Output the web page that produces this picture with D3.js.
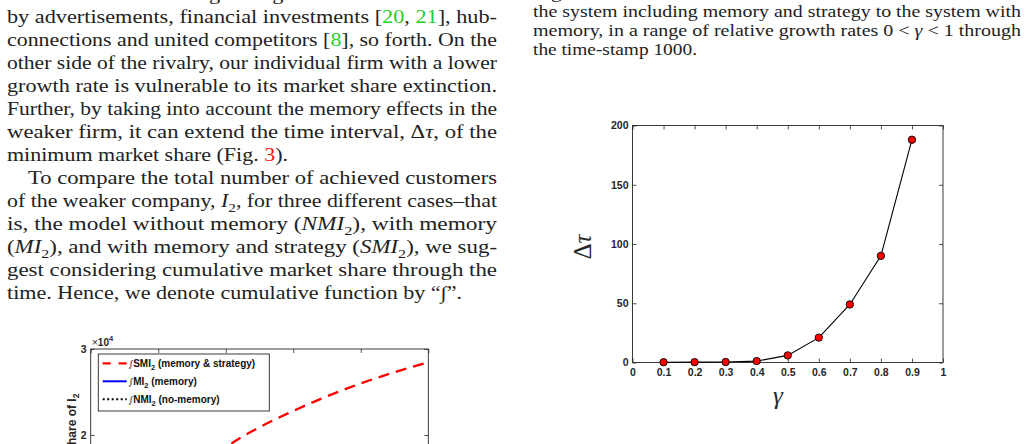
<!DOCTYPE html>
<html>
<head>
<meta charset="utf-8">
<script src="https://cdn.jsdelivr.net/npm/d3@7"></script>
<style>
  html, body { margin: 0; padding: 0; background: #fff; overflow: hidden; }
  svg text { white-space: pre; }
</style>
</head>
<body>
<svg id="page" width="1029" height="444"></svg>
<script>
// ---- page text (left column, right column) ----
const leftLines = [
  "not and maintain their growing market share initiatives",
  "by advertisements, financial investments [<g>20</g>, <g>21</g>], hub-",
  "connections and united competitors [<g>8</g>], so forth. On the",
  "other side of the rivalry, our individual firm with a lower",
  "growth rate is vulnerable to its market share extinction.",
  "Further, by taking into account the memory effects in the",
  "weaker firm, it can extend the time interval, Δ<i>τ</i>, of the",
  "minimum market share (Fig. <r>3</r>).",
  "To compare the total number of achieved customers",
  "of the weaker company, <i>I</i><s>2</s>, for three different cases–that",
  "is, the model without memory (<i>NMI</i><s>2</s>), with memory",
  "(<i>MI</i><s>2</s>), and with memory and strategy (<i>SMI</i><s>2</s>), we sug-",
  "gest considering cumulative market share through the",
  "time. Hence, we denote cumulative function by “∫”."
];
const rightLines = [
  "Fig. 4 shows the extension of the time interval, Δ<i>τ</i>, from",
  "the system including memory and strategy to the system with",
  "memory, in a range of relative growth rates 0 &lt; <i>γ</i> &lt; 1 through",
  "the time-stamp 1000."
];

// ---- left figure: cumulative market share of I2 (x10^4) ----
const timeSteps = [0, 100, 200, 300, 400, 500, 600, 700, 800, 900, 1000];
const cumSMI = [0, 0.55, 1.0, 1.45, 1.85, 2.09, 2.28, 2.45, 2.60, 2.73, 2.845];
const cumMI  = [0, 0.30, 0.55, 0.78, 0.98, 1.15, 1.30, 1.43, 1.54, 1.63, 1.70];
const cumNMI = [0, 0.25, 0.45, 0.62, 0.76, 0.88, 0.98, 1.06, 1.13, 1.19, 1.24];
const legendLabels = ["SMI", "MI", "NMI"];
const legendNotes = [" (memory & strategy)", " (memory)", " (no-memory)"];

// ---- right figure: delta tau vs gamma ----
const gammaVals = [0.1, 0.2, 0.3, 0.4, 0.5, 0.6, 0.7, 0.8, 0.9];
const deltaTau  = [0.2, 0.3, 0.4, 1.2, 6, 21, 49, 90, 188];
const gammaTicks = [0, 0.1, 0.2, 0.3, 0.4, 0.5, 0.6, 0.7, 0.8, 0.9, 1];
const tauTicks = [0, 50, 100, 150, 200];

const svg = d3.select("#page");
const ink = "#222";
const axisInk = "#262626";
const sans = "'Liberation Sans', Arial, Helvetica, sans-serif";
const serif = "'Liberation Serif', 'DejaVu Serif', serif";

// draw one line of body text with a tiny markup: <g> green, <r> red, <i> italic, <s> subscript
function textLine(x, y, str, size, width) {
  const t = svg.append("text")
    .attr("x", x).attr("y", y)
    .style("font-family", serif)
    .style("font-size", size + "px")
    .attr("fill", ink);
  if (width) t.attr("textLength", width).attr("lengthAdjust", "spacingAndGlyphs");
  const st = { g: false, r: false, i: false, s: false };
  let shift = 0;
  str.replace(/&lt;/g, "<lt>").split(/(<\/?[girs]>)/).filter(p => p !== "").forEach(p => {
    const m = p.match(/^<(\/?)([girs])>$/);
    if (m) { st[m[2]] = !m[1]; return; }
    const ts = t.append("tspan").text(p.replace(/<lt>/g, "<"));
    const want = st.s ? size * 0.25 : 0;
    if (want !== shift) { ts.attr("dy", want - shift); shift = want; }
    if (st.s) ts.style("font-size", (size * 0.7) + "px");
    if (st.i) ts.style("font-style", "italic");
    if (st.g) ts.attr("fill", "#25d025");
    if (st.r) ts.attr("fill", "#f01414");
  });
}

// left column
const colW = 490;
leftLines.forEach((s, i) => {
  const y = i * 23;
  if (i === 7) textLine(7, y, s, 18, 281);
  else if (i === 8) textLine(28, y, s, 18, 469);
  else if (i === 13) textLine(7, y, s, 18, 455);
  else textLine(7, y, s, 18, colW);
});
// right column
rightLines.forEach((s, i) => {
  const y = -1.7 + i * 19;
  if (i === 3) textLine(533, y, s, 16.5, 164);
  else textLine(533, y, s, 16.5, 488);
});

// styling helper for axes
function styleAxis(g, labels) {
  g.attr("font-size", null).attr("font-family", null);
  g.select(".domain").remove();
  g.selectAll(".tick line").attr("stroke", axisInk).attr("stroke-width", 0.8);
  g.selectAll(".tick text")
    .attr("fill", axisInk)
    .style("font-family", sans)
    .style("font-weight", "bold")
    .style("font-size", "10.5px");
  if (!labels) g.selectAll(".tick text").remove();
}

// ================= left chart =================
const xL = d3.scaleLinear().domain([0, 1000]).range([90.7, 428.3]);
const yL = d3.scaleLinear().domain([0, 3]).range([607, 349]);

svg.append("clipPath").attr("id", "clipL")
  .append("rect").attr("x", 90.7).attr("y", 349).attr("width", 337.6).attr("height", 258);

const left = svg.append("g");
const lineL = d3.line().x((d, i) => xL(timeSteps[i])).y(d => yL(d)).curve(d3.curveMonotoneX);

const plotL = left.append("g").attr("clip-path", "url(#clipL)");
plotL.append("path").attr("d", lineL(cumNMI)).attr("fill", "none")
  .attr("stroke", "#000").attr("stroke-width", 2).attr("stroke-dasharray", "2,2.5");
plotL.append("path").attr("d", lineL(cumMI)).attr("fill", "none")
  .attr("stroke", "#0000ff").attr("stroke-width", 2);
plotL.append("path").attr("d", lineL(cumSMI)).attr("fill", "none")
  .attr("stroke", "#ff0000").attr("stroke-width", 2.3).attr("stroke-dasharray", "11,7");

left.append("g").attr("transform", "translate(90.7,0)")
  .call(d3.axisLeft(yL).tickValues([0, 1, 2, 3]).tickFormat(d3.format("d")).tickSizeInner(-4).tickSizeOuter(0).tickPadding(4))
  .call(g => styleAxis(g, true));
left.append("g").attr("transform", "translate(428.3,0)")
  .call(d3.axisRight(yL).tickValues([0, 1, 2, 3]).tickSizeInner(-4).tickSizeOuter(0))
  .call(g => styleAxis(g, false));
left.append("g").attr("transform", "translate(0,349)")
  .call(d3.axisTop(xL).ticks(5).tickSizeInner(-4).tickSizeOuter(0))
  .call(g => styleAxis(g, false));
left.append("g").attr("transform", "translate(0,607)")
  .call(d3.axisBottom(xL).ticks(5).tickSizeInner(-4).tickSizeOuter(0))
  .call(g => styleAxis(g, true));
left.append("rect").attr("x", 90.7).attr("y", 349).attr("width", 337.6).attr("height", 258)
  .attr("fill", "none").attr("stroke", axisInk).attr("stroke-width", 0.9);

// x10^4 multiplier
const mult = left.append("text").attr("x", 92).attr("y", 345.5)
  .style("font-family", sans).style("font-size", "10px").attr("fill", axisInk);
mult.append("tspan").text("×");
mult.append("tspan").style("font-weight", "bold").text("10");
mult.append("tspan").style("font-weight", "bold").style("font-size", "7.5px").attr("dy", -5).text("4");

// y label (rotated)
const yLab = left.append("text").attr("transform", "translate(76,478) rotate(-90)")
  .attr("text-anchor", "middle")
  .style("font-family", sans).style("font-weight", "bold")
  .style("font-size", "12px").attr("fill", axisInk);
yLab.append("tspan").text("Cumulative market share of I");
yLab.append("tspan").style("font-size", "8.5px").attr("dy", 3).text("2");

// legend
const lg = left.append("g");
lg.append("rect").attr("x", 98.3).attr("y", 354).attr("width", 171).attr("height", 57)
  .attr("fill", "#fff").attr("stroke", axisInk).attr("stroke-width", 0.9);
const legendStyles = [
  { c: "#ff0000", w: 2.3, dash: "8,8" },
  { c: "#0000ff", w: 2, dash: null },
  { c: "#000", w: 2, dash: "2,2.5" }
];
const legendY = d3.scalePoint().domain(legendLabels).range([363.3, 399.3]);
legendLabels.forEach((lab, i) => {
  const y = legendY(lab);
  const s = legendStyles[i];
  const ln = lg.append("line").attr("x1", 102.7).attr("x2", 126.7).attr("y1", y).attr("y2", y)
    .attr("stroke", s.c).attr("stroke-width", s.w);
  if (s.dash) ln.attr("stroke-dasharray", s.dash);
  const t = lg.append("text").attr("x", 128.5).attr("y", y + 3.5)
    .style("font-family", sans).style("font-size", "10px").attr("fill", "#111");
  t.append("tspan").style("font-family", "'DejaVu Serif', serif").style("font-size", "9px").text("∫");
  t.append("tspan").style("font-weight", "bold").text(lab);
  t.append("tspan").style("font-weight", "bold").style("font-size", "7.5px").attr("dy", 3).text("2");
  t.append("tspan").style("font-weight", "bold").attr("dy", -3).text(legendNotes[i]);
});

// ================= right chart =================
const xR = d3.scaleLinear().domain([0, 1]).range([632.5, 943]);
const yR = d3.scaleLinear().domain([0, 200]).range([362.5, 125.5]);
const right = svg.append("g");

right.append("g").attr("transform", "translate(0,362.5)")
  .call(d3.axisBottom(xR).tickValues(gammaTicks).tickFormat(d3.format("~g")).tickSizeInner(-4).tickSizeOuter(0).tickPadding(6))
  .call(g => styleAxis(g, true));
right.append("g").attr("transform", "translate(0,125.5)")
  .call(d3.axisTop(xR).tickValues(gammaTicks).tickSizeInner(-4).tickSizeOuter(0))
  .call(g => styleAxis(g, false));
right.append("g").attr("transform", "translate(632.5,0)")
  .call(d3.axisLeft(yR).tickValues(tauTicks).tickSizeInner(-4).tickSizeOuter(0).tickPadding(4))
  .call(g => styleAxis(g, true));
right.append("g").attr("transform", "translate(943,0)")
  .call(d3.axisRight(yR).tickValues(tauTicks).tickSizeInner(-4).tickSizeOuter(0))
  .call(g => styleAxis(g, false));
right.append("rect").attr("x", 632.5).attr("y", 125.5).attr("width", 310.5).attr("height", 237)
  .attr("fill", "none").attr("stroke", axisInk).attr("stroke-width", 0.9);

const lineR = d3.line().x((d, i) => xR(gammaVals[i])).y(d => yR(d));
right.append("path").attr("d", lineR(deltaTau)).attr("fill", "none")
  .attr("stroke", "#000").attr("stroke-width", 1.1);
right.selectAll("circle.pt").data(deltaTau).enter().append("circle")
  .attr("class", "pt")
  .attr("cx", (d, i) => xR(gammaVals[i]))
  .attr("cy", d => yR(d))
  .attr("r", 3.7)
  .attr("fill", "#ff0000").attr("stroke", "#000").attr("stroke-width", 0.9);

// axis labels
const tauLab = right.append("text").attr("transform", "translate(591,247) rotate(-90)")
  .attr("text-anchor", "middle")
  .style("font-family", serif)
  .style("font-size", "25px").attr("fill", axisInk);
tauLab.append("tspan").text("Δ");
tauLab.append("tspan").style("font-style", "italic").text("τ");
right.append("text").attr("x", 778).attr("y", 404)
  .attr("text-anchor", "middle")
  .style("font-family", serif)
  .style("font-style", "italic").style("font-size", "25px").attr("fill", axisInk)
  .text("γ");
</script>
</body>
</html>
